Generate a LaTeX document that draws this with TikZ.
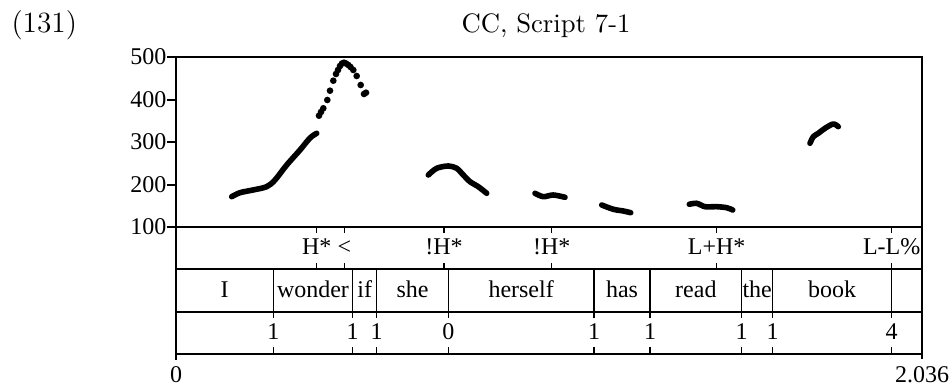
\documentclass[tikz,border=0pt]{standalone}
\usepackage{fontspec}
\newfontfamily\praatfont{Liberation Serif}
\tikzset{
  tierline/.style={line width=0.75pt},
  bound/.style={line width=0.4pt},
  lab/.style={font=\praatfont\fontsize{9}{10}\selectfont,inner sep=0pt,anchor=base},
  fzero/.style={line width=2.1pt,line cap=round,line join=round},
}
\begin{document}
\begin{tikzpicture}[x=0.375pt,y=-0.375pt]
\useasboundingbox(0,0)rectangle(950,387);
\pgfmathsetmacro{\kl}{176}
\pgfmathsetmacro{\kr}{922}
\pgfmathsetmacro{\ktop}{57}
\pgfmathsetmacro{\kone}{227}
\pgfmathsetmacro{\ktwo}{269}
\pgfmathsetmacro{\kthree}{312}
\pgfmathsetmacro{\kbot}{354}
\node[font=\fontsize{11}{13}\selectfont,inner sep=0pt,anchor=base west](ex)at(11,33){(131)};
\node[font=\fontsize{10}{12}\selectfont,inner sep=0pt,anchor=base](title)at(546,33){CC, Script 7-1};
\draw[tierline](\kl,\kbot+6)--(\kl,\ktop)--(\kr,\ktop)--(\kr,\kbot+5);
\foreach \ky in {\ktwo,\kthree,\kbot}{\draw[tierline](\kl,\ky)--(\kr,\ky);}
\draw[bound](\kl,\kone)--(\kr,\kone);
\foreach \ky/\hz in {57/500,100/400,142/300,185/200,227/100}{\draw[bound](\kl,\ky)--++(-9,0)node[lab,anchor=east](hz\hz){\hz};}
\foreach \kx/\tlb [count=\i] in {316.7/{H*},344.3/{<},444/{!H*},551.7/{!H*},716.7/{L+H*},891.7/{L-L\%}}{\draw[bound](\kx,\kone)--++(0,6);\draw[bound](\kx,\ktwo)--++(0,-6);\node[lab](tone\i)at(\kx,255){\tlb};}
\foreach \kx in {273.3,352.7,376.7,448.3,594,650,741.7,772.7,891.7}{\draw[bound](\kx,\ktwo)--(\kx,\kthree);}
\foreach \ka/\kb/\wlb [count=\i] in {176/273.3/I,273.3/352.7/wonder,352.7/376.7/if,376.7/448.3/she,448.3/594/herself,594/650/has,650/741.7/read,741.7/772.7/the,772.7/891.7/book}{\node[lab](w\i)at({(\ka+\kb)/2},298){\wlb};}
\foreach \kx/\blb [count=\i] in {273.3/1,352.7/1,376.7/1,448.3/0,594/1,650/1,741.7/1,772.7/1,891.7/4}{\draw[bound](\kx,\kthree)--++(0,6);\draw[bound](\kx,\kbot)--++(0,-7);\node[lab](brk\i)at(\kx,340){\blb};}
\node[lab](tzero)at(\kl,383){0};
\node[lab](tend)at(\kr,383){2.036};
\draw[fzero]plot[smooth]coordinates{(231.7,196.7)(240,192.7)(253,190)(266.7,186.7)(275,180)(286.7,165)(300,150)(310,138)(316.7,133.3)};
\foreach \kx/\ky in {319/115.7,321/112,323.3/108.3,327.3/100,330/90.7,333.3/80.7,336/74,338/70,340/66,342/63.5,344/62.7,346/63.5,348.3/65,350.5/67,353.3/70,356.7/76,360.7/85,364/94,366/92.7}{\fill(\kx,\ky)circle(1.25pt);}
\draw[fzero]plot[smooth]coordinates{(428.3,175)(436.7,168.3)(448.3,166)(456.7,168.3)(463.3,175)(470,181.7)(478.3,186.7)(486.7,193.3)};
\draw[fzero]plot[smooth]coordinates{(535,193.3)(543.3,196.7)(553.3,195)(565,197.3)};
\draw[fzero]plot[smooth]coordinates{(601.7,205)(613.3,209.3)(623.3,211)(630.7,212.7)};
\draw[fzero]plot[smooth]coordinates{(689.3,204.3)(696.7,203.3)(705,206.7)(716.7,206.7)(726.7,207.7)(732.7,210)};
\draw[fzero]plot[smooth]coordinates{(810,143.3)(813.3,136.7)(818.3,133.3)(825,128.3)(833.3,124)(838.3,126.7)};
\end{tikzpicture}
\end{document}
